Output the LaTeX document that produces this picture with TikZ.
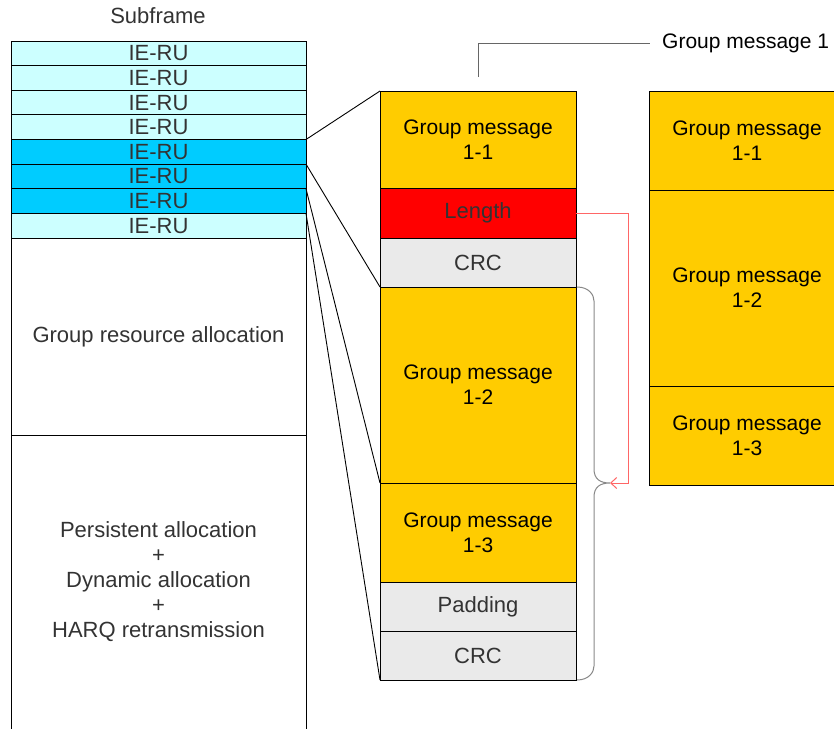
\documentclass[tikz,border=0pt]{standalone}
\usepackage{fontspec}
\setmainfont{Liberation Sans}
\usetikzlibrary{arrows.meta,calc}
\definecolor{ielight}{HTML}{CCFFFF}
\definecolor{iedark}{HTML}{00CCFF}
\definecolor{gmyellow}{HTML}{FFCC00}
\definecolor{lenred}{HTML}{FF0000}
\definecolor{crcgray}{HTML}{EAEAEA}
\definecolor{txtgray}{HTML}{333333}
\definecolor{arrowred}{HTML}{FF6666}
\definecolor{bracegray}{HTML}{888888}
\definecolor{calloutgray}{HTML}{666666}
\begin{document}
\begin{tikzpicture}[x=1pt,y=-1pt,
  txt/.style={font=\fontsize{22}{25}\selectfont},
  gmtxt/.style={font=\fontsize{21}{25}\selectfont},
  cell/.style={txt, draw=black, line width=1pt, inner sep=0pt, outer sep=0pt, align=center, text=txtgray},
  sfcell/.style={cell, minimum width=295pt, anchor=north west},
  msgcell/.style={cell, minimum width=196pt, anchor=north},
  gmcell/.style={msgcell, gmtxt, fill=gmyellow, text=black},
  crccell/.style={msgcell, fill=crcgray},
  mapline/.style={draw=black, line width=0.9pt},
]
\useasboundingbox (0,0) rectangle (834,728);
\clip (0,0) rectangle (834,728);

% Subframe column
\node[txt, text=txtgray] (sflabel) at (158,16) {Subframe};
\foreach \i/\c in {1/ielight,2/ielight,3/ielight,4/ielight,5/iedark,6/iedark,7/iedark,8/ielight}
  \node[sfcell, fill=\c, minimum height=24.625pt] (ie\i) at (11,{41+(\i-1)*24.625}) {IE-RU};
\node[sfcell, minimum height=197pt] (gra) at (11,238) {Group resource allocation};
\node[sfcell, draw=none, minimum height=293pt] (pers) at (11,435)
  {Persistent allocation\\+\\Dynamic allocation\\+\\HARQ retransmission};
\draw[line width=1pt] ([yshift=-15]pers.south west) -- (pers.north west) -- (pers.north east) -- ([yshift=-15]pers.south east);

% Group message 1 column
\node[gmcell, minimum height=97pt, anchor=north west] (gm11) at (380,91) {Group message\\1-1};
\node[msgcell, fill=lenred, minimum height=50pt] (len) at (gm11.south) {Length};
\node[crccell, minimum height=49pt] (crc1) at (len.south) {CRC};
\node[gmcell, minimum height=196pt] (gm12) at (crc1.south) {Group message\\1-2};
\node[gmcell, minimum height=99pt] (gm13) at (gm12.south) {Group message\\1-3};
\node[crccell, minimum height=49pt] (pad) at (gm13.south) {Padding};
\node[crccell, minimum height=49pt] (crc2) at (pad.south) {CRC};

% Reassembled messages
\node[gmcell, minimum height=99pt, anchor=north west] (r11) at (649,91) {Group message\\1-1};
\node[gmcell, minimum height=196pt] (r12) at (r11.south) {Group message\\1-2};
\node[gmcell, minimum height=99pt] (r13) at (r12.south) {Group message\\1-3};

% Mapping of IE-RUs onto the message
\draw[mapline] (ie5.north east) -- (gm11.north west);
\draw[mapline] (ie5.south east) -- (crc1.south west);
\draw[mapline] (ie6.south east) -- (gm12.south west);
\draw[mapline] (ie7.south east) -- (crc2.south west);

% Brace over the segmented part
\coordinate (tip) at ([xshift=34]gm13.north east);
\draw[bracegray, line width=1pt]
  ([xshift=1]gm12.north east) .. controls +(12,0) and +(0,-6) .. ++(17,14)
  -- ([xshift=-16,yshift=14]tip) .. controls +(0,10) and +(-10,0) .. (tip)
  .. controls +(-10,0) and +(0,-10) .. ([xshift=-16,yshift=-14]tip)
  -- ([xshift=18,yshift=14]crc2.south east) .. controls +(0,6) and +(12,0) .. ([xshift=1]crc2.south east);

% Length field pointing to the segmented part
\draw[arrowred, line width=1pt, -{Straight Barb[length=6pt,width=11pt]}]
  (len.east) -- ++(52,0) |- (tip);

% Callout
\node[gmtxt, anchor=west, inner sep=0pt] (gm1lbl) at (662,43) {Group message 1};
\coordinate (cstart) at ([yshift=14]gm11.north);
\draw[calloutgray, line width=1pt] (cstart) |- ([xshift=-12]gm1lbl.west);
\end{tikzpicture}
\end{document}
